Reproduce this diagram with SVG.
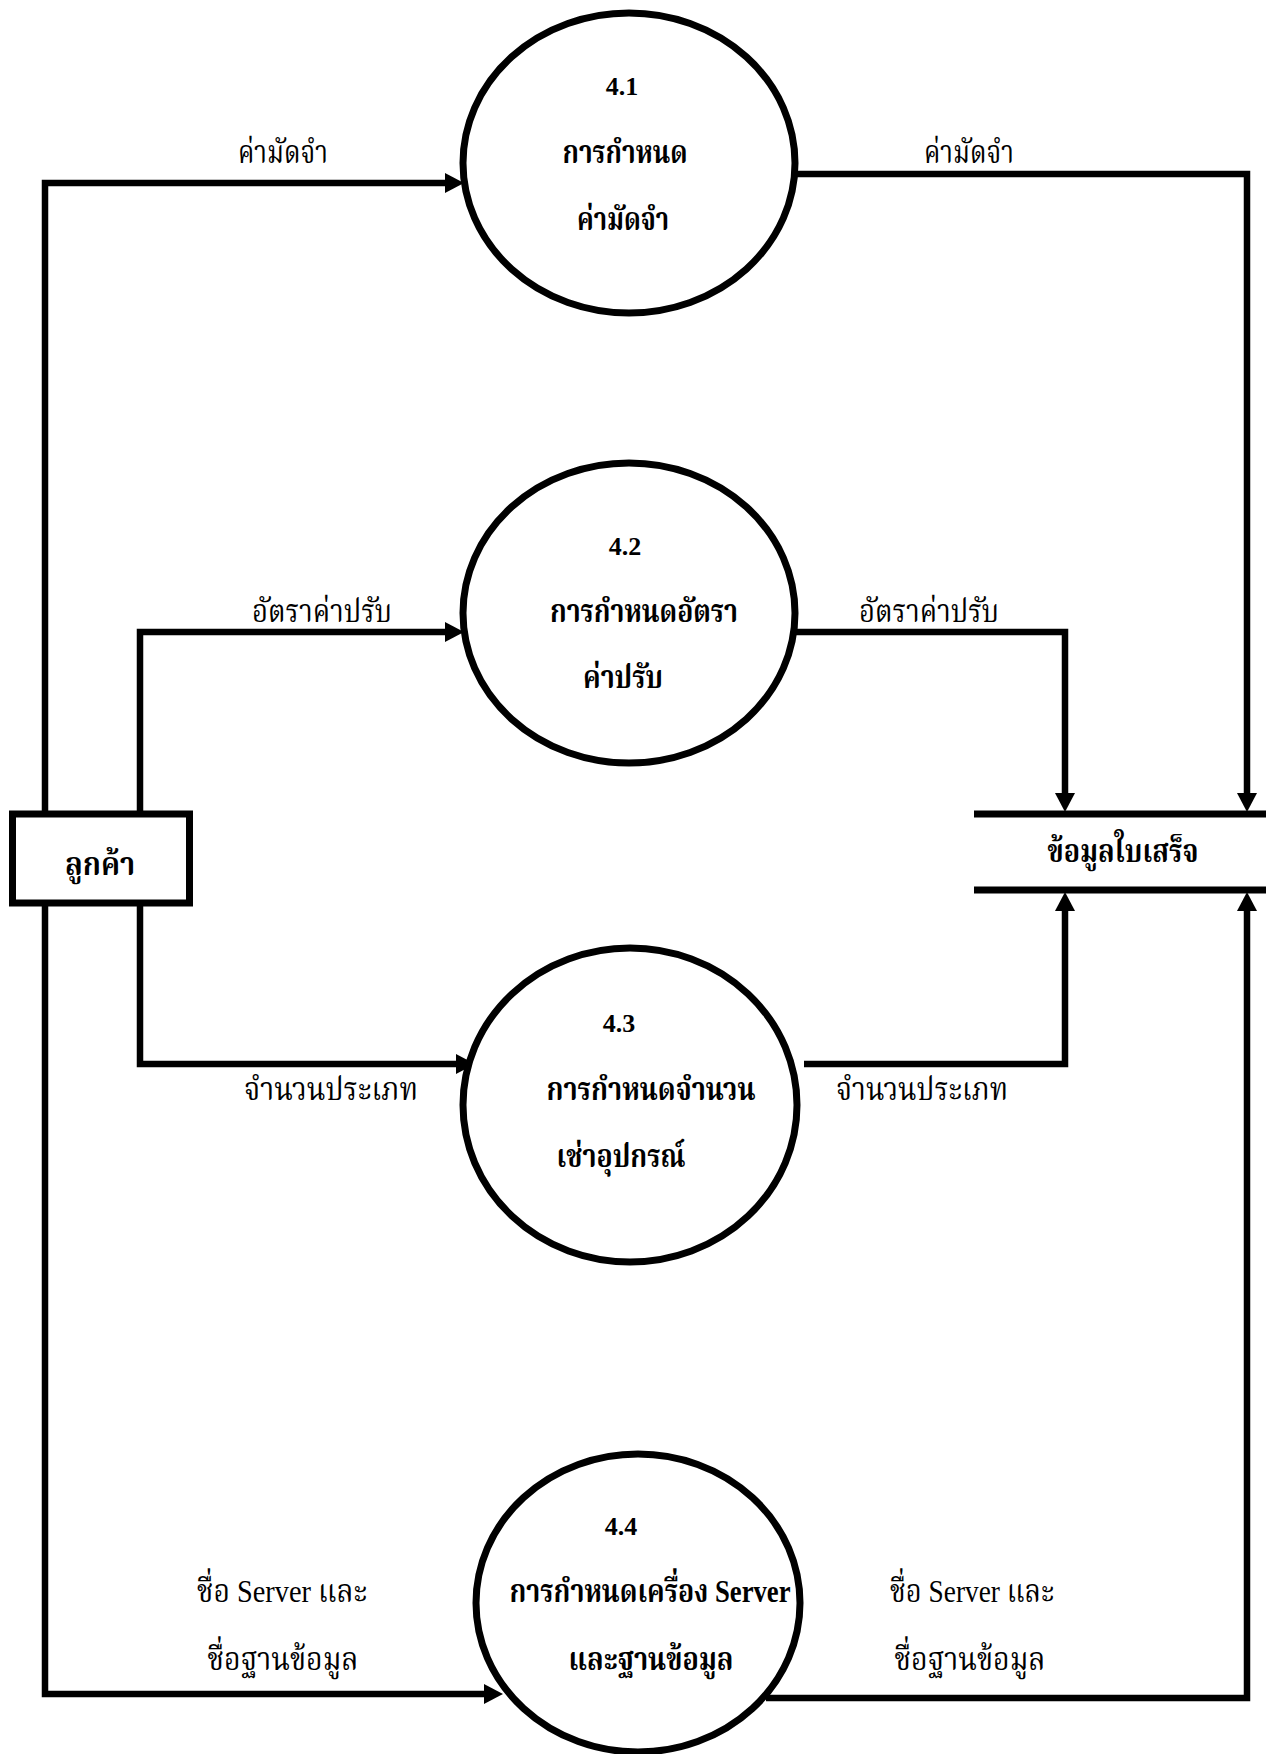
<svg xmlns="http://www.w3.org/2000/svg" width="1266" height="1754" viewBox="0 0 1266 1754">
<style>
.bg{fill:#fff}
.proc{fill:#fff;stroke:#000;stroke-width:7}
.ext{fill:#fff;stroke:#000;stroke-width:7}
.store{stroke:#000;stroke-width:7}
.flow{fill:none;stroke:#000;stroke-width:6.5;marker-end:url(#arr)}
text{font-family:"Liberation Serif","Noto Serif Thai","Noto Sans Thai",serif;fill:#000;text-anchor:middle}
.lbl{font-size:32px}
.nt{font-size:32px;font-weight:bold}
.num{font-size:26px;font-weight:bold}
</style>
<defs>
<marker id="arr" markerUnits="userSpaceOnUse" markerWidth="19" markerHeight="21" refX="0" refY="10" orient="auto" overflow="visible">
<path d="M0,0 L19,10 L0,20 Z" fill="#000"/>
</marker>
</defs>
<rect class="bg" x="0" y="0" width="1266" height="1754"/>
<g id="connectors">
<path class="flow" d="M45,811 V183 H445"/>
<path class="flow" d="M140,811 V632 H445"/>
<path class="flow" d="M140,906 V1064 H456"/>
<path class="flow" d="M45,906 V1694 H484"/>
<path class="flow" d="M795,174 H1247 V793"/>
<path class="flow" d="M795,632 H1065 V793"/>
<path class="flow" d="M804,1064 H1065 V911"/>
<path class="flow" d="M766,1698 H1247 V911"/>
<text class="lbl" x="283" y="163" textLength="90" lengthAdjust="spacingAndGlyphs">ค่ามัดจำ</text>
<text class="lbl" x="969" y="163" textLength="90" lengthAdjust="spacingAndGlyphs">ค่ามัดจำ</text>
<text class="lbl" x="322" y="622" textLength="140" lengthAdjust="spacingAndGlyphs">อัตราค่าปรับ</text>
<text class="lbl" x="929" y="622" textLength="140" lengthAdjust="spacingAndGlyphs">อัตราค่าปรับ</text>
<text class="lbl" x="331" y="1100" textLength="174" lengthAdjust="spacingAndGlyphs">จำนวนประเภท</text>
<text class="lbl" x="922" y="1100" textLength="172" lengthAdjust="spacingAndGlyphs">จำนวนประเภท</text>
<text class="lbl" x="282" y="1602" textLength="170" lengthAdjust="spacingAndGlyphs">ชื่อ Server และ</text>
<text class="lbl" x="283" y="1670" textLength="151" lengthAdjust="spacingAndGlyphs">ชื่อฐานข้อมูล</text>
<text class="lbl" x="972" y="1602" textLength="164" lengthAdjust="spacingAndGlyphs">ชื่อ Server และ</text>
<text class="lbl" x="970" y="1670" textLength="151" lengthAdjust="spacingAndGlyphs">ชื่อฐานข้อมูล</text>
</g>
<g id="p41">
<ellipse class="proc" cx="629" cy="163" rx="166" ry="150"/>
<text class="num" x="622" y="95">4.1</text>
<text class="nt" x="625" y="163" textLength="125" lengthAdjust="spacingAndGlyphs">การกำหนด</text>
<text class="nt" x="623" y="230" textLength="92" lengthAdjust="spacingAndGlyphs">ค่ามัดจำ</text>
</g>
<g id="p42">
<ellipse class="proc" cx="629" cy="613" rx="166" ry="150"/>
<text class="num" x="625" y="555">4.2</text>
<text class="nt" x="644" y="622" textLength="188" lengthAdjust="spacingAndGlyphs">การกำหนดอัตรา</text>
<text class="nt" x="623" y="688" textLength="80" lengthAdjust="spacingAndGlyphs">ค่าปรับ</text>
</g>
<g id="p43">
<ellipse class="proc" cx="630" cy="1105" rx="167" ry="157"/>
<text class="num" x="619" y="1032">4.3</text>
<text class="nt" x="651" y="1100" textLength="209" lengthAdjust="spacingAndGlyphs">การกำหนดจำนวน</text>
<text class="nt" x="621" y="1167" textLength="129" lengthAdjust="spacingAndGlyphs">เช่าอุปกรณ์</text>
</g>
<g id="p44">
<ellipse class="proc" cx="638" cy="1603" rx="162" ry="149"/>
<text class="num" x="621" y="1535">4.4</text>
<text class="nt" x="650" y="1602" textLength="281" lengthAdjust="spacingAndGlyphs">การกำหนดเครื่อง Server</text>
<text class="nt" x="651" y="1670" textLength="165" lengthAdjust="spacingAndGlyphs">และฐานข้อมูล</text>
</g>
<g id="customer">
<rect class="ext" x="12.5" y="814" width="177" height="89"/>
<text class="nt" x="100" y="875" textLength="70" lengthAdjust="spacingAndGlyphs">ลูกค้า</text>
</g>
<g id="receipt">
<line class="store" x1="974" y1="814" x2="1266" y2="814"/>
<line class="store" x1="974" y1="890" x2="1266" y2="890"/>
<text class="nt" x="1123" y="862" textLength="151" lengthAdjust="spacingAndGlyphs">ข้อมูลใบเสร็จ</text>
</g>
</svg>
